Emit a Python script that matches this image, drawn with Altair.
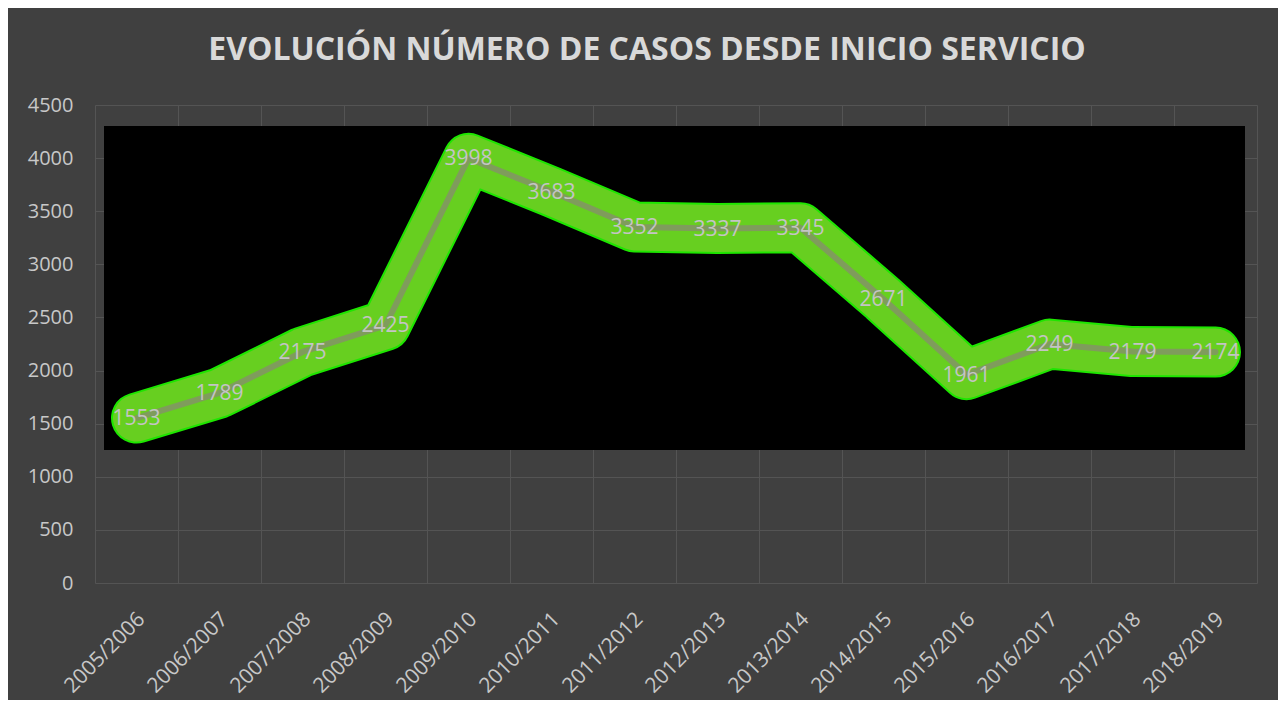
import altair as alt
import pandas as pd

categories = ["2005/2006", "2006/2007", "2007/2008", "2008/2009", "2009/2010",
              "2010/2011", "2011/2012", "2012/2013", "2013/2014", "2014/2015",
              "2015/2016", "2016/2017", "2017/2018", "2018/2019"]
cases = [1553, 1789, 2175, 2425, 3998, 3683, 3352, 3337, 3345, 2671, 1961, 2249, 2179, 2174]
y_ticks = [0, 500, 1000, 1500, 2000, 2500, 3000, 3500, 4000, 4500]

df = pd.DataFrame({"periodo": categories, "casos": cases})

FONT = "Open Sans"

x_enc = alt.X(
    "periodo:N", sort=categories, title=None, bandPosition=0.5,
    scale=alt.Scale(type="band", paddingInner=0, paddingOuter=0),
    axis=alt.Axis(tickBand="extent", grid=True, gridColor="#545454", gridWidth=1,
                  ticks=False, domain=False, labelAngle=-45, labelFont=FONT,
                  labelFontSize=21, labelColor="#c8c8c8", labelPadding=25,
                  labelOffset=-3),
)
y_enc = alt.Y(
    "casos:Q", title=None,
    scale=alt.Scale(domain=[0, 4500], nice=False),
    axis=alt.Axis(values=y_ticks, format="d", grid=True, gridColor="#545454", gridWidth=1,
                  ticks=False, domain=False, labelFont=FONT, labelFontSize=20,
                  labelColor="#c8c8c8", labelPadding=22),
)

base = alt.Chart(df)

backdrop = alt.Chart(pd.DataFrame({"k": [0]})).mark_rect(color="#000000").encode(
    x=alt.value(9), x2=alt.value(1150), y=alt.value(21), y2=alt.value(345)
)

glow = base.mark_line(color="#1ee600", strokeWidth=51, strokeCap="round",
                      strokeJoin="round").encode(x=x_enc, y=y_enc)
band = base.mark_line(color="#67cf20", strokeWidth=47, strokeCap="round",
                      strokeJoin="round").encode(x=x_enc, y=y_enc)
thin = base.mark_line(color="#7f9c5c", strokeWidth=6, strokeCap="round",
                      strokeJoin="round").encode(x=x_enc, y=y_enc)
labels = base.mark_text(font=FONT, fontSize=21, color="#c4c4c4",
                        align="center", baseline="middle", dy=1).encode(
    x=x_enc, y=y_enc, text="casos:Q")

chart = alt.layer(backdrop, glow, band, thin, labels).properties(
    width=1162, height=478,
    background="#404040",
    padding={"left": 87, "top": 97, "right": 21, "bottom": 117},
    autosize=alt.AutoSizeParams(type="none"),
    title=alt.TitleParams(
        "EVOLUCIÓN NÚMERO DE CASOS DESDE INICIO SERVICIO",
        font=FONT, fontSize=32, fontWeight="bold", color="#d9d9d9",
        anchor="middle", dx=-29, offset=28,
    ),
).configure_view(stroke=None)

chart.save("out.html", embed_options={"renderer": "svg", "actions": False})
